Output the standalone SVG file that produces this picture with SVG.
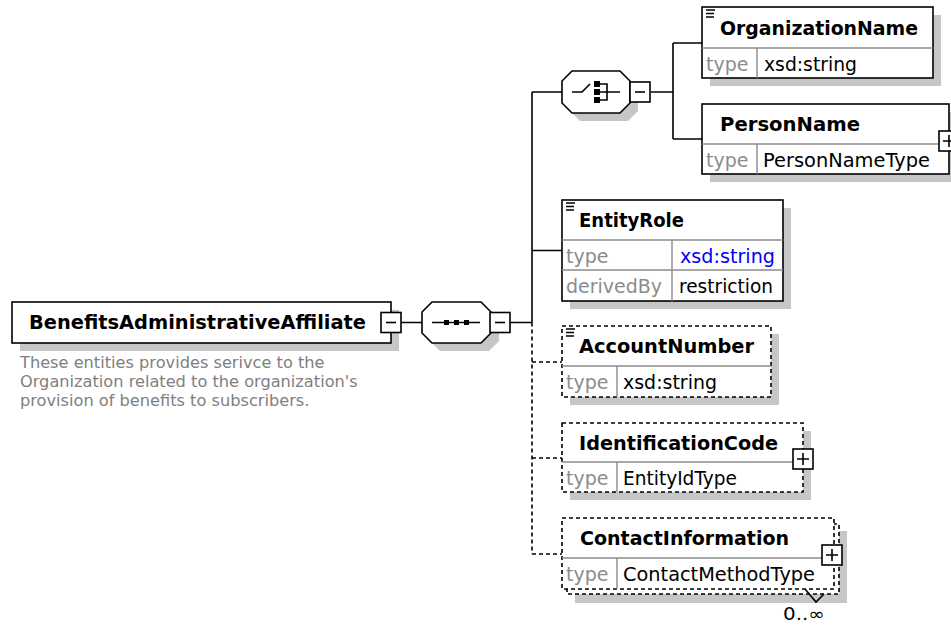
<svg xmlns="http://www.w3.org/2000/svg" width="951" height="627" viewBox="0 0 951 627">
<defs>
<style>
.box{fill:#fff;stroke:#000;stroke-width:1.6}
.dbox{fill:#fff;stroke:#000;stroke-width:1.6;stroke-dasharray:4 3}
.shadow{fill:#c6c6c6}
.div{stroke:#8c8c8c;stroke-width:1.4;fill:none}
.hdr{font-family:"DejaVu Sans",sans-serif;font-weight:bold;font-size:19px;fill:#000}
.lbl{font-family:"DejaVu Sans",sans-serif;font-size:19px;fill:#8c8c8c}
.val{font-family:"DejaVu Sans",sans-serif;font-size:19px;fill:#000}
.blue{fill:#0000ff}
.desc{font-family:"DejaVu Sans",sans-serif;font-size:16.2px;fill:#808080}
.occ{font-family:"DejaVu Sans",sans-serif;font-size:17px;fill:#000}
.conn{stroke:#000;stroke-width:1.6;fill:none}
.dconn{stroke:#000;stroke-width:1.6;fill:none;stroke-dasharray:4 3}
.btn{fill:#fff;stroke:#000;stroke-width:1.6}
.sym{stroke:#000;stroke-width:1.6;fill:none}
.ico{stroke:#000;stroke-width:1.6}
</style>
<g id="minus"><rect class="btn" x="0" y="0" width="20" height="20"/><path class="sym" d="M5,10H15"/></g>
<g id="plus"><rect class="btn" x="0" y="0" width="20" height="20"/><path class="sym" d="M4,10H16M10,4V16"/></g>
<g id="doc"><path class="ico" d="M4,4H13M4,7.5H12M4,11H12"/></g>
</defs>

<g id="connectors">
<path class="conn" d="M401,322.5H422M510,322.5H532M532,92V322.5M532,92H562M532,250.5H562M651,92H673M673,43V139M673,43H702M673,139H702"/>
<path class="dconn" d="M532,322.5V554M532,362H562M532,458H562M532,554H562"/>
</g>

<g id="BenefitsAdministrativeAffiliate">
<rect class="shadow" x="20" y="310" width="379" height="41"/>
<rect class="box" x="12" y="302" width="379" height="41"/>
<text class="hdr" x="29" y="329" textLength="337" lengthAdjust="spacingAndGlyphs">BenefitsAdministrativeAffiliate</text>
<use href="#minus" x="381" y="312.5"/>
<text class="desc" x="20" y="368">These entities provides serivce to the</text>
<text class="desc" x="20" y="387">Organization related to the organization's</text>
<text class="desc" x="20" y="406">provision of benefits to subscribers.</text>
</g>

<g id="sequence">
<polygon class="shadow" points="440,310 489,310 499,320 499,341 489,351 440,351 430,341 430,320"/>
<polygon class="box" points="432,302 481,302 491,312 491,333 481,343 432,343 422,333 422,312"/>
<path class="sym" d="M432,322.5H480"/>
<rect x="444" y="320" width="5" height="5" fill="#000"/>
<rect x="454" y="320" width="5" height="5" fill="#000"/>
<rect x="464" y="320" width="5" height="5" fill="#000"/>
<use href="#minus" x="490" y="312.5"/>
</g>

<g id="choice">
<polygon class="shadow" points="580,79 628,79 638,89 638,111 628,121 580,121 570,111 570,89"/>
<polygon class="box" points="572,71 620,71 630,81 630,103 620,113 572,113 562,103 562,81"/>
<path class="sym" d="M572,92H582L590,84M600,84H607V100H600M600,92H620"/>
<rect x="594" y="81" width="6" height="6" fill="#000"/>
<rect x="594" y="89" width="6" height="6" fill="#000"/>
<rect x="594" y="97" width="6" height="6" fill="#000"/>
<use href="#minus" x="630" y="82"/>
</g>

<g id="OrganizationName">
<rect class="shadow" x="710" y="15" width="231" height="71"/>
<rect class="box" x="702" y="7" width="231" height="71"/>
<path class="div" d="M702,48H933M757,48V78"/>
<use href="#doc" x="702" y="6"/>
<text class="hdr" x="720" y="35" textLength="198" lengthAdjust="spacingAndGlyphs">OrganizationName</text>
<text class="lbl" x="706" y="71">type</text>
<text class="val" x="764" y="71" textLength="93" lengthAdjust="spacingAndGlyphs">xsd:string</text>
</g>

<g id="PersonName">
<rect class="shadow" x="710" y="112" width="247" height="70"/>
<rect class="box" x="702" y="104" width="247" height="70"/>
<path class="div" d="M702,144H949M757,144V174"/>
<text class="hdr" x="720" y="131" textLength="140" lengthAdjust="spacingAndGlyphs">PersonName</text>
<text class="lbl" x="706" y="167">type</text>
<text class="val" x="763" y="167" textLength="167" lengthAdjust="spacingAndGlyphs">PersonNameType</text>
<use href="#plus" x="939" y="131"/>
</g>

<g id="EntityRole">
<rect class="shadow" x="570" y="208" width="221" height="101"/>
<rect class="box" x="562" y="200" width="221" height="101"/>
<path class="div" d="M562,240H783M562,270H783M672,240V301"/>
<use href="#doc" x="562" y="199"/>
<text class="hdr" x="579" y="227" textLength="105" lengthAdjust="spacingAndGlyphs">EntityRole</text>
<text class="lbl" x="566" y="263">type</text>
<text class="val blue" x="680" y="263" textLength="95" lengthAdjust="spacingAndGlyphs">xsd:string</text>
<text class="lbl" x="566" y="293" textLength="96" lengthAdjust="spacingAndGlyphs">derivedBy</text>
<text class="val" x="679" y="293" textLength="94" lengthAdjust="spacingAndGlyphs">restriction</text>
</g>

<g id="AccountNumber">
<rect class="shadow" x="570" y="334" width="209" height="71"/>
<rect class="dbox" x="562" y="326" width="209" height="71"/>
<path class="div" d="M562,366H771M617,366V397"/>
<use href="#doc" x="562" y="325"/>
<text class="hdr" x="579" y="353" textLength="175" lengthAdjust="spacingAndGlyphs">AccountNumber</text>
<text class="lbl" x="566" y="389">type</text>
<text class="val" x="623" y="389" textLength="94" lengthAdjust="spacingAndGlyphs">xsd:string</text>
</g>

<g id="IdentificationCode">
<rect class="shadow" x="570" y="431" width="241" height="69"/>
<rect class="dbox" x="562" y="423" width="241" height="69"/>
<path class="div" d="M562,462H803M617,462V492"/>
<text class="hdr" x="579" y="450" textLength="199" lengthAdjust="spacingAndGlyphs">IdentificationCode</text>
<text class="lbl" x="566" y="485">type</text>
<text class="val" x="623" y="485" textLength="114" lengthAdjust="spacingAndGlyphs">EntityIdType</text>
<use href="#plus" x="793" y="449"/>
</g>

<g id="ContactInformation">
<rect class="shadow" x="575" y="531" width="272" height="72"/>
<rect class="dbox" x="567" y="524" width="272" height="70"/>
<rect class="dbox" x="562" y="518" width="272" height="71"/>
<path class="div" d="M562,558H834M617,558V589"/>
<text class="hdr" x="580" y="545" textLength="209" lengthAdjust="spacingAndGlyphs">ContactInformation</text>
<text class="lbl" x="566" y="581">type</text>
<text class="val" x="623" y="581" textLength="192" lengthAdjust="spacingAndGlyphs">ContactMethodType</text>
<use href="#plus" x="822" y="545"/>
<path class="sym" d="M805,589L816,602L824,594" stroke-width="1.3"/>
<text class="occ" x="783" y="620" textLength="42" lengthAdjust="spacingAndGlyphs">0..∞</text>
</g>
</svg>
